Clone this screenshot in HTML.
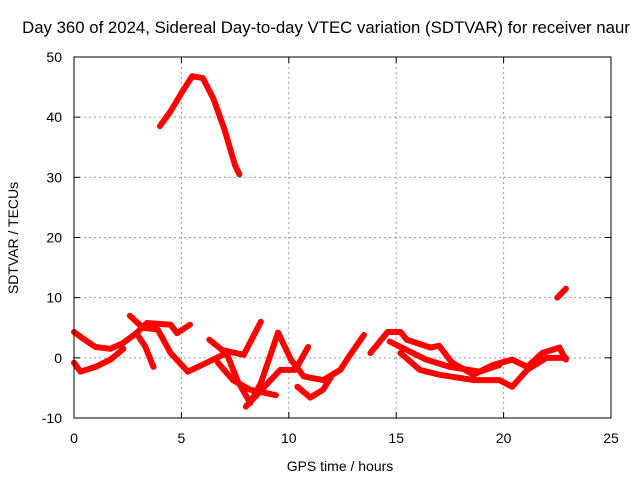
<!DOCTYPE html>
<html><head><meta charset="utf-8"><style>
body{margin:0;background:#fff;}
svg text{font-family:"Liberation Sans",sans-serif;font-size:14px;fill:#000;}
svg text.title{font-size:16.8px;}
</style></head><body>
<svg id="chart" width="640" height="480" viewBox="0 0 640 480">
<text class="title" x="326" y="33" text-anchor="middle">Day 360 of 2024, Sidereal Day-to-day VTEC variation (SDTVAR) for receiver naur</text>
<g id="grid"></g>
<g id="series"></g>
<rect x="74" y="57" width="537" height="361" fill="none" stroke="#000" stroke-width="1"/>
<g id="ticks"></g>
<text x="340" y="471" text-anchor="middle">GPS time / hours</text>
<text transform="translate(18,238) rotate(-90)" text-anchor="middle">SDTVAR / TECUs</text>
</svg>
<script>
const xTicks=[0,5,10,15,20,25];
const yTicks=[-10,0,10,20,30,40,50];
const seg1=[[4.0,38.5],[4.5,41],[5,44],[5.5,46.8],[6,46.5],[6.5,43],[7,38],[7.5,32],[7.7,30.5]];
const seg2=[[0,4.3],[0.5,3],[1,1.8],[1.7,1.5],[2.3,2.5],[2.9,4.1],[3.4,5.8],[4.5,5.5],[4.8,4.1],[5.4,5.5]];
const seg3=[[0,-0.8],[0.3,-2.3],[1,-1.5],[1.7,-0.3],[2.3,1.5]];
const seg4=[[2.9,4.1],[3.3,2],[3.7,-1.5]];
const seg5=[[2.6,7],[3.2,5],[3.9,4.7],[4.5,0.8],[5.3,-2.3],[6.3,-0.6],[7.1,0.8],[7.6,-3.7],[8.2,-7.5],[8.7,-4.2],[9.5,4.2],[10.1,-0.3],[10.7,-3.1],[11.6,-3.7],[12.4,-2],[12.8,0.2],[13.5,3.8]];
const seg6=[[6.3,3],[6.9,1.3],[7.9,0.5],[8.7,6]];
const seg7=[[6.7,-0.8],[7.4,-3.7],[8.2,-5.3],[9.4,-6.2]];
const seg8=[[8.0,-8.1],[9.6,-2],[10.3,-2],[10.9,1.8]];
const seg9=[[10.4,-4.8],[11,-6.6],[11.6,-5.3],[12,-3]];
const seg10=[[13.8,0.8],[14.6,4.3],[15.2,4.3],[15.5,3],[16.6,1.7],[17,2],[17.6,-0.8],[18.6,-2.8],[19.5,-1.2],[20.4,-0.3],[21.1,-1.5],[21.8,0.8],[22.6,1.7],[22.9,-0.3]];
const seg11=[[15.2,0.8],[16.1,-2],[17,-2.8],[18.6,-3.7],[19.8,-3.7],[20.4,-4.8],[21.1,-2],[22,0],[22.9,0]];
const seg12=[[14.7,2.7],[16.4,-0.3],[17.5,-1.5],[18.9,-2.3],[19.8,-1.2]];
const seg13=[[22.5,10],[22.9,11.5]];
const allSegs=[seg1,seg2,seg3,seg4,seg5,seg6,seg7,seg8,seg9,seg10,seg11,seg12,seg13];
const X=h=>74+h*(537/25);
const Y=v=>418-(v+10)*(361/60);
const NS="http://www.w3.org/2000/svg";
const grid=document.getElementById('grid'),ticks=document.getElementById('ticks'),ser=document.getElementById('series');
function mk(tag,attrs,parent){const e=document.createElementNS(NS,tag);for(const k in attrs)e.setAttribute(k,attrs[k]);parent.appendChild(e);return e;}
xTicks.forEach(t=>{
  if(t>0&&t<25){const g=mk('line',{x1:X(t),x2:X(t),y1:57,y2:418,stroke:'#999','stroke-dasharray':'2,3'},grid);
  
  }
  const a=mk('line',{x1:X(t),x2:X(t),y1:418,y2:412,stroke:'#000'},ticks);
  
  
  const b=mk('line',{x1:X(t),x2:X(t),y1:57,y2:63,stroke:'#000'},ticks);
  
  
  const l=mk('text',{x:X(t),y:443,'text-anchor':'middle'},ticks);l.textContent=t;
  
  
});
yTicks.forEach(t=>{
  if(t>-10&&t<50){const g=mk('line',{x1:74,x2:611,y1:Y(t),y2:Y(t),stroke:'#999','stroke-dasharray':'2,3'},grid);
  
  }
  const a=mk('line',{x1:74,x2:80,y1:Y(t),y2:Y(t),stroke:'#000'},ticks);
  
  
  const b=mk('line',{x1:605,x2:611,y1:Y(t),y2:Y(t),stroke:'#000'},ticks);
  
  
  const l=mk('text',{x:62,y:Y(t)+5,'text-anchor':'end'},ticks);l.textContent=t;
  
  
});
allSegs.forEach(s=>{
  const p=mk('polyline',{points:s.map(d=>X(d[0])+','+Y(d[1])).join(' '),fill:'none',stroke:'#f00','stroke-width':6,'stroke-linejoin':'round','stroke-linecap':'round'},ser);
  
  
});
</script>
</body></html>
